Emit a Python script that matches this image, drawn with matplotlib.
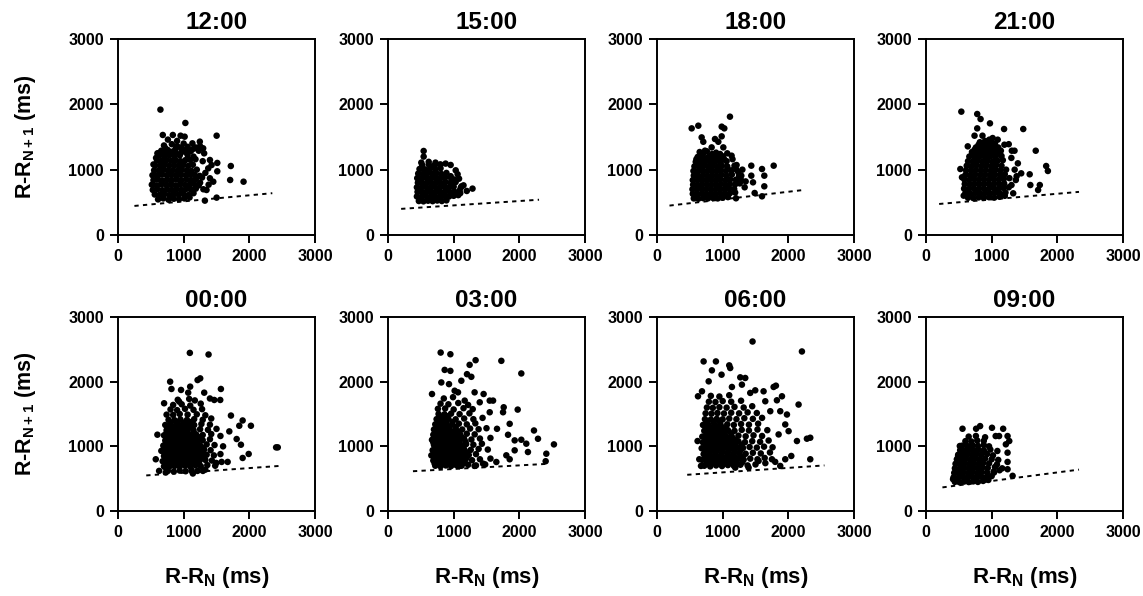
import matplotlib
matplotlib.use("Agg")
import matplotlib.pyplot as plt

plt.rcParams['font.family'] = ['Liberation Sans', 'DejaVu Sans']
plt.rcParams['font.weight'] = 'bold'
plt.rcParams['mathtext.fontset'] = 'custom'
plt.rcParams['mathtext.rm'] = 'Liberation Sans:bold'
plt.rcParams['mathtext.it'] = 'Liberation Sans:bold'
plt.rcParams['mathtext.bf'] = 'Liberation Sans:bold'

titles = ["12:00", "15:00", "18:00", "21:00", "00:00", "03:00", "06:00", "09:00"]
tick_values = [0, 1000, 2000, 3000]
tick_labels = ["0", "1000", "2000", "3000"]

# (R-R_N, R-R_N+1) pairs in ms, per time of day
pts_1200 = [
    (610,545),(690,560),(770,540),(850,555),(930,548),(1010,560),(1090,575),
    (560,620),(635,615),(705,625),(780,610),(855,630),(925,615),(1000,628),(1075,612),(1150,640),
    (530,690),(600,700),(675,685),(750,695),(820,688),(895,700),(965,690),(1040,705),(1110,695),(1185,710),
    (515,770),(585,760),(655,775),(730,765),(800,770),(875,760),(945,775),(1020,765),(1090,770),(1160,780),(1230,760),
    (540,840),(610,850),(680,835),(755,845),(825,840),(900,850),(970,838),(1045,848),(1115,842),(1185,855),
    (525,915),(595,910),(665,925),(740,915),(810,920),(885,910),(955,922),(1030,915),(1100,925),(1170,918),(1245,905),
    (550,990),(620,985),(690,995),(765,988),(835,990),(905,985),(975,995),(1050,990),(1120,980),(1200,1000),
    (565,1065),(640,1060),(710,1070),(780,1062),(855,1068),(925,1060),(995,1072),(1070,1058),(1140,1075),
    (595,1140),(665,1135),(740,1145),(810,1138),(880,1142),(950,1130),(1025,1145),(1100,1150),(1180,1160),
    (630,1215),(705,1210),(780,1222),(860,1205),(940,1218),(1060,1225),(1150,1200),
    (660,1290),(760,1300),(840,1280),(1000,1300),(1110,1285),(1230,1290),
    (620,1255),(700,1255),(790,1260),(880,1250),(960,1260),(1040,1265),
    (720,1330),(880,1320),(960,1340),(1060,1350),(1150,1320),
    (700,1370),(820,1390),(900,1360),(1250,1360),(1000,1400),(600,1250),(580,1180),(540,1080),
    (646,1919),(1026,1715),(682,1531),(835,1531),(953,1520),(1015,1505),(1502,1520),(1246,1429),
    (1133,1403),(1297,1327),(1312,1250),(1067,1317),(1512,1103),(1512,975),(1718,1056),(1708,842),
    (1912,816),(1348,689),(1323,526),(1502,572),(1400,868),(1451,816),(1374,1020),(1400,1148),
    (1425,1071),(760,1460),(900,1440),(1180,1340),(1290,1130),(1330,950),(1280,880),(1250,800),
    (1300,700),(1380,770),
]
pts_1500 = [
    (470,520),(540,515),(610,525),(680,518),(750,528),(820,520),(890,530),
    (440,590),(510,585),(580,595),(650,588),(720,592),(790,585),(860,598),(930,590),(1000,600),(1070,610),
    (450,660),(520,655),(590,665),(660,658),(730,662),(800,655),(870,668),(940,660),(1010,665),(1090,680),
    (440,730),(510,725),(580,735),(650,728),(720,732),(790,725),(860,738),(930,730),(1000,740),(1120,745),
    (455,800),(525,795),(595,805),(665,798),(735,802),(805,795),(875,808),(950,800),(1030,810),
    (445,870),(515,865),(585,875),(655,868),(725,872),(795,865),(870,878),(960,870),
    (460,940),(530,935),(600,945),(670,938),(740,942),(810,935),(890,950),
    (480,1010),(560,1005),(640,1015),(720,1008),(800,1020),
    (520,1070),(620,1080),(700,1060),(790,1075),
    (543,1286),(543,1200),(507,1108),(723,1108),(877,1093),(954,1072),(1031,990),(1082,862),
    (1200,674),(1287,710),(1108,725),(954,900),(1005,850),(620,1120),(800,1080),(1060,930),
    (1150,760),(1100,640),
]
pts_1800 = [
    (560,560),(630,555),(700,565),(775,560),(850,568),(925,560),(1000,570),(1080,580),
    (545,630),(615,625),(685,635),(755,628),(825,632),(895,625),(965,638),(1040,630),(1110,640),(1190,650),
    (540,700),(610,695),(680,705),(750,698),(820,702),(890,695),(960,708),(1030,700),(1100,710),(1175,705),
    (550,770),(620,765),(690,775),(760,768),(830,772),(900,765),(970,778),(1040,770),(1110,780),(1190,775),(1260,790),
    (545,840),(615,835),(685,845),(755,838),(825,842),(895,835),(965,848),(1040,840),(1115,850),(1200,845),
    (560,910),(630,905),(700,915),(770,908),(840,912),(910,905),(980,918),(1060,910),(1140,925),
    (555,980),(625,975),(695,985),(765,978),(835,982),(905,975),(975,988),(1050,980),(1130,990),(1210,1000),
    (570,1050),(640,1045),(710,1055),(780,1048),(850,1052),(920,1045),(990,1058),(1070,1050),
    (590,1120),(665,1115),(740,1125),(815,1118),(890,1122),(970,1115),(1060,1130),
    (600,1160),(680,1155),(760,1160),(840,1165),(930,1160),(1020,1165),
    (620,1195),(700,1190),(790,1200),(880,1210),(1000,1205),
    (700,1235),(840,1240),(960,1240),(1150,1160),(1180,1060),(1250,900),(1280,840),
    (650,1270),(760,1280),(900,1260),(1070,1250),
    (1111,1811),(528,1632),(629,1673),(985,1658),(1025,1632),(680,1494),(705,1427),(883,1469),
    (985,1510),(934,1427),(832,1341),(1010,1341),(731,1291),(1136,1214),(1212,1071),(1436,1061),
    (1599,1010),(1777,1061),(1634,908),(1634,745),(1599,592),(1436,908),(1462,806),(1487,643),
    (1335,730),(1284,908),(1203,562),(1238,960),(1300,1000),(1350,820),
]
pts_2100 = [
    (640,570),(720,565),(800,575),(880,568),(960,578),(1040,572),(1120,585),(1200,600),
    (600,640),(675,635),(750,645),(825,638),(900,642),(975,635),(1050,648),(1125,640),(1210,650),
    (580,710),(655,705),(730,715),(805,708),(880,712),(955,705),(1030,718),(1105,710),(1180,720),(1260,730),
    (590,780),(665,775),(740,785),(815,778),(890,782),(965,775),(1040,788),(1115,780),(1190,790),
    (585,850),(660,845),(735,855),(810,848),(885,852),(960,845),(1035,858),(1110,850),(1185,860),(1270,870),
    (600,920),(675,915),(750,925),(825,918),(900,922),(975,915),(1050,928),(1125,920),(1200,930),
    (610,990),(685,985),(760,995),(835,988),(910,992),(985,985),(1060,998),(1135,990),(1220,1000),
    (620,1060),(695,1055),(770,1065),(845,1058),(920,1062),(995,1055),(1070,1068),(1150,1060),
    (640,1130),(715,1125),(790,1135),(865,1128),(940,1132),(1015,1125),(1090,1138),(1170,1145),
    (660,1200),(740,1195),(820,1205),(900,1198),(980,1202),(1060,1195),(1150,1210),
    (700,1235),(780,1235),(860,1240),(940,1235),(1020,1240),(1100,1245),
    (700,1270),(790,1265),(880,1275),(960,1268),(1050,1280),(1140,1290),
    (740,1305),(820,1305),(900,1310),(980,1300),(1060,1310),
    (760,1340),(850,1350),(930,1335),(1010,1360),(1100,1340),
    (800,1380),(880,1390),(960,1385),(1050,1400),
    (820,1420),(900,1440),(1000,1410),(860,1520),
    (538,1888),(780,1852),(831,1775),(780,1632),(974,1709),(1189,1622),(1481,1622),(739,1520),
    (1015,1484),(964,1459),(1092,1459),(1194,1382),(1307,1290),(1348,1290),(1671,1290),(636,1357),
    (1399,1097),(1450,944),(1579,929),(1830,1056),(1856,980),(1589,765),(1733,765),(1707,689),
    (1328,638),(1302,765),(1368,842),(523,1010),(548,883),(574,602),(1300,1180),(1350,1000),
    (1380,900),(1260,1390),
]
pts_0000 = [
    (760,620),(850,610),(940,625),(1030,615),(1120,630),(1210,620),(1330,640),
    (700,690),(780,685),(860,695),(940,688),(1020,700),(1100,690),(1180,705),(1260,695),(1360,710),(1480,700),
    (740,730),(820,730),(900,730),(980,735),(1060,730),(1140,740),(1220,735),
    (680,770),(760,765),(840,775),(920,768),(1000,780),(1080,770),(1160,785),(1240,775),(1330,790),(1430,780),
    (720,810),(800,810),(880,815),(960,805),(1040,815),(1120,810),(1200,820),(1290,815),
    (700,850),(780,845),(860,855),(940,848),(1020,860),(1100,850),(1180,865),(1260,855),(1350,870),(1460,860),(1560,880),
    (720,890),(800,890),(880,895),(960,885),(1040,895),(1120,890),(1200,900),(1280,895),
    (660,930),(740,925),(820,935),(900,928),(980,940),(1060,930),(1140,945),(1220,935),(1310,950),(1410,940),
    (730,970),(810,970),(890,975),(970,965),(1050,975),(1130,970),(1210,980),(1300,975),
    (690,1010),(770,1005),(850,1015),(930,1008),(1010,1020),(1090,1010),(1170,1025),(1250,1015),(1350,1030),(1470,1020),(1600,1000),
    (730,1050),(810,1050),(890,1055),(970,1045),(1050,1055),(1130,1050),(1210,1060),
    (720,1090),(800,1085),(880,1095),(960,1088),(1040,1100),(1120,1090),(1200,1105),(1290,1095),(1400,1110),
    (740,1130),(820,1130),(900,1135),(980,1125),(1060,1135),(1150,1130),(1240,1140),
    (700,1170),(780,1165),(860,1175),(940,1168),(1020,1180),(1100,1170),(1190,1185),(1290,1175),(1420,1190),(1560,1160),
    (740,1210),(820,1210),(900,1215),(980,1205),(1060,1215),(1150,1210),
    (740,1250),(820,1245),(900,1255),(980,1248),(1060,1260),(1150,1250),(1250,1265),(1370,1255),(1500,1270),
    (780,1290),(860,1290),(940,1295),(1020,1285),(1110,1295),
    (720,1330),(810,1325),(890,1335),(970,1328),(1060,1340),(1160,1330),(1270,1345),(1400,1335),
    (800,1370),(900,1375),(1000,1365),(1100,1375),
    (770,1410),(860,1405),(950,1415),(1050,1408),(1160,1420),(1290,1410),(1420,1430),
    (740,1490),(840,1485),(940,1500),(1060,1490),(1200,1495),(1330,1480),
    (800,1570),(900,1560),(1020,1580),(1150,1565),(1280,1575),
    (840,1640),(970,1650),(1100,1630),(1260,1660),
    (910,1720),(1170,1710),(1400,1740),
    (1094,2445),(1379,2420),(794,2000),(814,1887),(960,1872),(1069,1830),(1099,1923),(1212,2025),
    (1252,2051),(1313,1830),(1567,1887),(1466,1717),(1557,1717),(1084,1733),(702,1666),(931,1692),
    (1720,1476),(1898,1400),(2024,1318),(1847,1318),(1695,1231),(1807,1113),(1872,1025),(1898,820),
    (1990,882),(1670,759),(1578,759),(2408,984),(2433,984),(600,1180),(575,800),(626,620),
    (712,682),(727,595),(1140,580),(1293,620),(1496,743),
]
pts_0300 = [
    (720,700),(800,690),(880,705),(960,695),(1040,710),(1120,700),(1220,715),(1340,705),(1480,720),
    (740,740),(820,740),(900,745),(980,735),(1060,745),(1150,740),
    (690,780),(770,775),(850,785),(930,778),(1010,790),(1090,780),(1180,795),(1280,785),(1400,800),(1560,810),
    (710,820),(790,820),(870,825),(950,815),(1030,825),(1110,820),(1200,830),
    (660,860),(740,855),(820,865),(900,858),(980,870),(1060,860),(1140,875),(1230,865),(1340,880),
    (700,900),(780,900),(860,905),(940,895),(1020,905),(1100,900),(1190,910),
    (680,940),(760,935),(840,945),(920,938),(1000,950),(1080,940),(1160,955),(1260,945),(1380,960),(1520,950),
    (720,980),(800,980),(880,985),(960,975),(1040,985),(1130,980),
    (700,1020),(780,1015),(860,1025),(940,1018),(1020,1030),(1100,1020),(1190,1035),(1300,1025),(1430,1040),
    (690,1060),(770,1060),(850,1065),(930,1055),(1010,1065),(1090,1060),(1180,1070),
    (670,1100),(750,1095),(830,1105),(910,1098),(990,1110),(1070,1100),(1160,1115),(1270,1105),(1400,1120),(1560,1130),
    (710,1140),(790,1140),(870,1145),(950,1135),(1030,1145),(1120,1140),
    (690,1180),(770,1175),(850,1185),(930,1178),(1010,1190),(1100,1180),(1200,1195),(1320,1185),
    (730,1220),(810,1220),(890,1225),(980,1215),(1070,1225),
    (700,1260),(780,1255),(860,1265),(940,1258),(1030,1270),(1130,1260),(1250,1275),(1380,1265),(1500,1280),
    (750,1300),(840,1300),(930,1305),(1030,1295),
    (720,1340),(800,1335),(890,1345),(980,1338),(1080,1350),(1200,1340),(1330,1355),
    (770,1380),(870,1385),(980,1375),
    (740,1420),(830,1415),(920,1425),(1030,1418),(1160,1430),(1300,1420),(1440,1440),
    (800,1460),(900,1465),
    (770,1500),(860,1495),(960,1505),(1090,1498),(1240,1510),
    (760,1580),(870,1585),(1000,1570),(1150,1590),(1290,1575),
    (800,1660),(920,1650),(1070,1670),(1220,1640),
    (850,1740),(990,1760),
    (802,2450),(950,2424),(863,2182),(950,2167),(812,1988),(929,1962),(670,1809),(1243,2260),
    (1334,2332),(1726,2322),(2030,2127),(1203,2116),(1269,2075),(1117,2014),(1015,1860),(1066,1835),
    (1319,1835),(1456,1809),(1168,1707),(1397,1681),(1549,1707),(1600,1707),(1762,1604),(1752,1527),
    (1975,1568),(1549,1527),(1853,1348),(1660,1271),(1828,1179),(1929,1092),(2030,1102),(2223,1245),
    (2284,1117),(2527,1030),(2106,1041),(2131,912),(2411,886),(2401,770),(1929,938),(1802,861),
    (1853,800),(1650,758),(1447,733),(1319,697),(1091,697),(710,733),
]
pts_0600 = [
    (720,700),(810,690),(900,705),(990,695),(1080,710),(1170,700),(1270,715),(1380,705),(1500,720),(1650,740),(1800,760),
    (760,745),(850,745),(940,750),(1030,740),(1120,750),(1210,745),(1300,755),
    (690,790),(780,785),(870,795),(960,788),(1050,800),(1140,790),(1230,805),(1320,795),(1420,810),(1530,800),(1640,820),
    (740,835),(830,835),(920,840),(1010,830),(1100,840),(1190,835),(1290,845),
    (710,880),(800,875),(890,885),(980,878),(1070,890),(1160,880),(1250,895),(1350,885),(1460,900),(1580,890),(1720,905),
    (730,925),(820,925),(910,930),(1000,920),(1090,930),(1180,925),(1270,935),
    (680,970),(770,965),(860,975),(950,968),(1040,980),(1130,970),(1220,985),(1310,975),(1410,990),(1520,980),(1630,995),(1760,985),
    (740,1015),(830,1015),(920,1020),(1010,1010),(1100,1020),(1190,1015),(1290,1025),
    (700,1060),(790,1055),(880,1065),(970,1058),(1060,1070),(1150,1060),(1240,1075),(1340,1065),(1450,1080),(1570,1070),(1700,1090),
    (740,1105),(830,1105),(920,1110),(1010,1100),(1100,1110),(1190,1105),
    (690,1150),(780,1145),(870,1155),(960,1148),(1050,1160),(1140,1150),(1240,1165),(1350,1155),(1470,1170),(1600,1160),
    (760,1195),(850,1195),(940,1200),(1030,1190),(1130,1200),
    (720,1240),(810,1235),(900,1245),(990,1238),(1080,1250),(1180,1240),(1290,1255),(1400,1245),(1530,1260),(1680,1250),
    (750,1285),(840,1285),(930,1290),(1020,1280),
    (700,1330),(790,1325),(880,1335),(970,1328),(1070,1340),(1170,1330),(1280,1345),(1400,1335),(1540,1350),
    (760,1375),(860,1380),(960,1370),
    (730,1420),(820,1415),(910,1425),(1000,1418),(1100,1430),(1210,1420),(1330,1435),(1460,1425),(1600,1440),
    (740,1510),(830,1505),(920,1515),(1020,1508),(1130,1520),(1250,1510),(1380,1525),(1520,1515),
    (760,1600),(850,1595),(950,1605),(1060,1598),(1180,1610),(1320,1600),(1450,1620),
    (790,1690),(890,1685),(1000,1700),(1130,1690),(1280,1705),
    (820,1780),(950,1770),(1100,1790),
    (1455,2621),(2207,2467),(710,2313),(897,2313),(836,2175),(1100,2252),(1115,2211),(983,2108),
    (624,1774),(787,2005),(685,1851),(1268,2067),(1344,2057),(1293,1954),(1141,1918),(1420,1826),
    (1496,1866),(1623,1851),(1776,1918),(1811,1938),(1903,1774),(1826,1712),(2156,1646),(1649,1697),
    (1725,1543),(1877,1543),(1979,1492),(1953,1338),(2004,1235),(1852,1184),(2131,1082),(2283,1118),
    (2334,1133),(2334,800),(2045,851),(1953,800),(1877,697),(1750,800),(1547,774),(1395,671),
    (1192,671),(618,1082),(644,800),(670,697),
]
pts_0900 = [
    (440,450),(510,445),(580,455),(650,448),(720,458),(790,450),(870,465),(950,480),
    (420,520),(490,515),(560,525),(630,518),(700,528),(770,520),(840,530),(920,525),(1000,540),
    (430,590),(500,585),(570,595),(640,588),(710,598),(780,590),(850,600),(930,595),(1030,610),(1120,630),
    (440,660),(510,655),(580,665),(650,658),(720,668),(790,660),(860,670),(940,665),(1050,680),(1160,660),
    (450,730),(520,725),(590,735),(660,728),(730,738),(800,730),(870,740),(960,735),(1080,720),
    (470,800),(540,795),(610,805),(680,798),(750,808),(820,800),(900,810),(1000,800),(1100,790),
    (490,870),(560,865),(630,875),(700,868),(770,878),(840,870),(930,880),(1020,860),
    (520,940),(590,935),(660,945),(730,938),(800,948),(880,940),(980,950),
    (550,1010),(630,1005),(710,1015),(790,1008),(880,1020),(960,1000),
    (600,1080),(690,1075),(780,1090),(880,1085),
    (650,1150),(760,1160),(900,1140),
    (556,1272),(763,1272),(824,1313),(1005,1287),(1175,1272),(1061,1159),(1113,1159),(1242,1159),
    (1268,1082),(1216,1031),(1087,928),(1242,902),(1242,759),(1242,646),(1319,544),(1036,595),
    (515,1005),(489,851),(412,492),
]
all_pts = [pts_1200, pts_1500, pts_1800, pts_2100, pts_0000, pts_0300, pts_0600, pts_0900]

# dashed lower boundary: (x0, x1), (y0, y1)
line_x = [(250, 2350), (200, 2300), (190, 2240), (200, 2330),
          (430, 2500), (380, 2440), (460, 2550), (250, 2330)]
line_y = [(445, 640), (400, 540), (450, 690), (475, 660),
          (550, 700), (615, 730), (560, 705), (365, 640)]

W, H = 1143, 596
fig = plt.figure(figsize=(W / 100, H / 100), dpi=100)
lefts = [118, 388, 657, 926]
row_tops = [39, 317]
row_bottoms = [235, 511]
aw = 197

for i in range(8):
    r, c = divmod(i, 4)
    top, bot = row_tops[r], row_bottoms[r]
    ax = fig.add_axes([lefts[c] / W, 1 - bot / H, aw / W, (bot - top) / H])
    pts = all_pts[i]
    xs = [p[0] for p in pts]
    ys = [p[1] for p in pts]
    ax.scatter(xs, ys, s=22, c='black', edgecolors='none', zorder=3)
    ax.plot(line_x[i], line_y[i], color='black', lw=1.4, linestyle=(0, (2.2, 2.2)), zorder=2)
    ax.set_xlim(0, 3000)
    ax.set_ylim(0, 3000)
    ax.set_xticks(tick_values)
    ax.set_xticklabels(tick_labels)
    ax.set_yticks(tick_values)
    ax.set_yticklabels(tick_labels)
    for sp in ax.spines.values():
        sp.set_linewidth(1.4)
        sp.set_color('black')
    ax.tick_params(direction='out', length=6, width=1.4, labelsize=11.5, pad=4, colors='black')
    for lab in ax.get_xticklabels() + ax.get_yticklabels():
        lab.set_fontweight('bold')
    ax.set_title(titles[i], fontsize=17.5, fontweight='bold', pad=7)
    if r == 1:
        fig.text((lefts[c] + aw / 2) / W, 1 - 578 / H, r"R-R$_{N}$ (ms)",
                 ha='center', va='center', fontsize=16, fontweight='bold')

for r in range(2):
    cy = (row_tops[r] + row_bottoms[r]) / 2
    fig.text(26 / W, 1 - cy / H, r"R-R$_{N+1}$ (ms)", rotation=90,
             ha='center', va='center', fontsize=15.5, fontweight='bold')

fig.savefig("out.png", dpi=100, facecolor='white')
